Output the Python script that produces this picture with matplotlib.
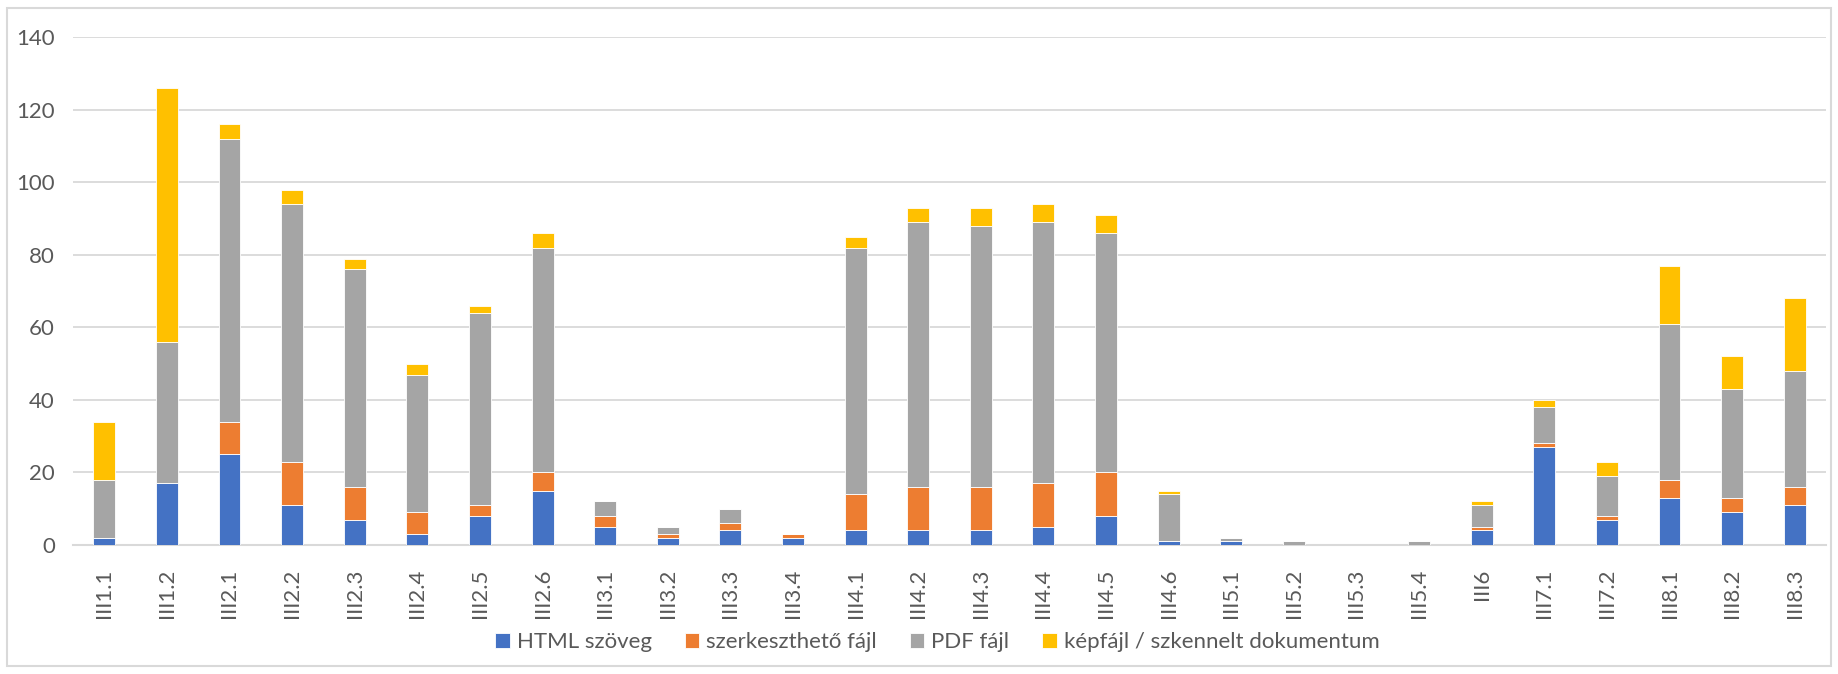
import numpy as np
import matplotlib
matplotlib.use("Agg")
import matplotlib.pyplot as plt
from matplotlib.patches import Rectangle

# data
categories = ["III1.1", "III1.2", "III2.1", "III2.2", "III2.3", "III2.4", "III2.5", "III2.6",
              "III3.1", "III3.2", "III3.3", "III3.4", "III4.1", "III4.2", "III4.3", "III4.4",
              "III4.5", "III4.6", "III5.1", "III5.2", "III5.3", "III5.4", "III6", "III7.1",
              "III7.2", "III8.1", "III8.2", "III8.3"]
html = [2, 17, 25, 11, 7, 3, 8, 15, 5, 2, 4, 2, 4, 4, 4, 5, 8, 1, 1, 0, 0, 0, 4, 27, 7, 13, 9, 11]
szerk = [0, 0, 9, 12, 9, 6, 3, 5, 3, 1, 2, 1, 10, 12, 12, 12, 12, 0, 0, 0, 0, 0, 1, 1, 1, 5, 4, 5]
pdf = [16, 39, 78, 71, 60, 38, 53, 62, 4, 2, 4, 0, 68, 73, 72, 72, 66, 13, 1, 1, 0, 1, 6, 10, 11, 43, 30, 32]
kep = [16, 70, 4, 4, 3, 3, 2, 4, 0, 0, 0, 0, 3, 4, 5, 5, 5, 1, 0, 0, 0, 0, 1, 2, 4, 16, 9, 20]

series_names = ["HTML szöveg", "szerkeszthető fájl", "PDF fájl", "képfájl / szkennelt dokumentum"]
colors = ["#4472C4", "#ED7D31", "#A5A5A5", "#FFC000"]

plt.rcParams["font.family"] = ["Lato", "DejaVu Sans"]

fig = plt.figure(figsize=(18.38, 6.74), dpi=100)
ax = fig.add_axes([0.0397, 0.1914, 0.9538, 0.753])

# chart border
fig.patches.append(Rectangle((0.004, 0.012), 0.992, 0.976, transform=fig.transFigure,
                             fill=False, edgecolor="#D9D9D9", linewidth=1.5))

x = np.arange(len(categories))
bottom = np.zeros(len(categories))
for vals, name, col in zip([html, szerk, pdf, kep], series_names, colors):
    vals = np.array(vals, dtype=float)
    ax.bar(x, vals, width=0.35, bottom=bottom, color=col, label=name,
           edgecolor="white", linewidth=0.6, zorder=3)
    bottom += vals

ax.set_xlim(-0.5, len(categories) - 0.5)
ax.set_ylim(0, 140)
ax.set_yticks(range(0, 141, 20))
ax.yaxis.grid(True, color="#D9D9D9", linewidth=1.3, zorder=0)
ax.set_xticks(x)
ax.set_xticklabels(categories, rotation=90)
ax.tick_params(axis="both", length=0, labelsize=16, labelcolor="#595959")
ax.tick_params(axis="y", pad=13)
ax.tick_params(axis="x", pad=17)
for s in ["top", "right", "left"]:
    ax.spines[s].set_visible(False)
ax.spines["bottom"].set_color("#D9D9D9")
ax.spines["bottom"].set_linewidth(1.5)

fig.legend(*ax.get_legend_handles_labels(), loc="center", bbox_to_anchor=(0.51, 0.0475),
           ncol=4, frameon=False, fontsize=16, labelcolor="#595959",
           handlelength=0.65, handleheight=0.65, handletextpad=0.3, columnspacing=1.5)

fig.savefig("out.png", dpi=100)
